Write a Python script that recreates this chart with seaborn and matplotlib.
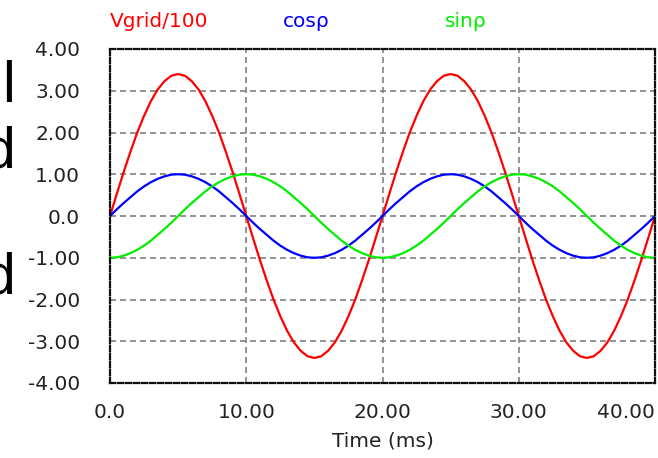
import matplotlib
matplotlib.use("Agg")
import matplotlib.pyplot as plt
import seaborn as sns
import pandas as pd

# ---- data (0.5 ms sampling) ----
time_ms = [0.0, 0.5, 1.0, 1.5, 2.0, 2.5, 3.0, 3.5, 4.0, 4.5,
           5.0, 5.5, 6.0, 6.5, 7.0, 7.5, 8.0, 8.5, 9.0, 9.5,
           10.0, 10.5, 11.0, 11.5, 12.0, 12.5, 13.0, 13.5, 14.0, 14.5,
           15.0, 15.5, 16.0, 16.5, 17.0, 17.5, 18.0, 18.5, 19.0, 19.5,
           20.0, 20.5, 21.0, 21.5, 22.0, 22.5, 23.0, 23.5, 24.0, 24.5,
           25.0, 25.5, 26.0, 26.5, 27.0, 27.5, 28.0, 28.5, 29.0, 29.5,
           30.0, 30.5, 31.0, 31.5, 32.0, 32.5, 33.0, 33.5, 34.0, 34.5,
           35.0, 35.5, 36.0, 36.5, 37.0, 37.5, 38.0, 38.5, 39.0, 39.5,
           40.0]

vgrid_100 = [0.00, 0.53, 1.05, 1.54, 2.00, 2.40, 2.75, 3.03, 3.23, 3.36,
             3.40, 3.36, 3.23, 3.03, 2.75, 2.40, 2.00, 1.54, 1.05, 0.53,
             0.00, -0.53, -1.05, -1.54, -2.00, -2.40, -2.75, -3.03, -3.23, -3.36,
             -3.40, -3.36, -3.23, -3.03, -2.75, -2.40, -2.00, -1.54, -1.05, -0.53,
             0.00, 0.53, 1.05, 1.54, 2.00, 2.40, 2.75, 3.03, 3.23, 3.36,
             3.40, 3.36, 3.23, 3.03, 2.75, 2.40, 2.00, 1.54, 1.05, 0.53,
             0.00, -0.53, -1.05, -1.54, -2.00, -2.40, -2.75, -3.03, -3.23, -3.36,
             -3.40, -3.36, -3.23, -3.03, -2.75, -2.40, -2.00, -1.54, -1.05, -0.53,
             0.00]

cos_rho = [0.00, 0.16, 0.31, 0.45, 0.59, 0.71, 0.81, 0.89, 0.95, 0.99,
           1.00, 0.99, 0.95, 0.89, 0.81, 0.71, 0.59, 0.45, 0.31, 0.16,
           0.00, -0.16, -0.31, -0.45, -0.59, -0.71, -0.81, -0.89, -0.95, -0.99,
           -1.00, -0.99, -0.95, -0.89, -0.81, -0.71, -0.59, -0.45, -0.31, -0.16,
           0.00, 0.16, 0.31, 0.45, 0.59, 0.71, 0.81, 0.89, 0.95, 0.99,
           1.00, 0.99, 0.95, 0.89, 0.81, 0.71, 0.59, 0.45, 0.31, 0.16,
           0.00, -0.16, -0.31, -0.45, -0.59, -0.71, -0.81, -0.89, -0.95, -0.99,
           -1.00, -0.99, -0.95, -0.89, -0.81, -0.71, -0.59, -0.45, -0.31, -0.16,
           0.00]

sin_rho = [-1.00, -0.99, -0.95, -0.89, -0.81, -0.71, -0.59, -0.45, -0.31, -0.16,
           0.00, 0.16, 0.31, 0.45, 0.59, 0.71, 0.81, 0.89, 0.95, 0.99,
           1.00, 0.99, 0.95, 0.89, 0.81, 0.71, 0.59, 0.45, 0.31, 0.16,
           0.00, -0.16, -0.31, -0.45, -0.59, -0.71, -0.81, -0.89, -0.95, -0.99,
           -1.00, -0.99, -0.95, -0.89, -0.81, -0.71, -0.59, -0.45, -0.31, -0.16,
           0.00, 0.16, 0.31, 0.45, 0.59, 0.71, 0.81, 0.89, 0.95, 0.99,
           1.00, 0.99, 0.95, 0.89, 0.81, 0.71, 0.59, 0.45, 0.31, 0.16,
           0.00, -0.16, -0.31, -0.45, -0.59, -0.71, -0.81, -0.89, -0.95, -0.99,
           -1.00]

series_names = ["Vgrid/100", "cosρ", "sinρ"]
series_colors = ["#ff0000", "#0000ff", "#00ee00"]

x_ticks = [0, 10, 20, 30, 40]
x_tick_labels = ["0.0", "10.00", "20.00", "30.00", "40.00"]
y_ticks = [4, 3, 2, 1, 0, -1, -2, -3, -4]
y_tick_labels = ["4.00", "3.00", "2.00", "1.00", "0.0", "-1.00", "-2.00", "-3.00", "-4.00"]

side_letters = ["l", "d", "d"]

# ---- build long table ----
frames = []
for name, vals in zip(series_names, [vgrid_100, cos_rho, sin_rho]):
    frames.append(pd.DataFrame({"t": time_ms, "v": vals, "s": name}))
df = pd.concat(frames, ignore_index=True)

sns.set_style("white")
plt.rcParams["font.family"] = ["DejaVu Sans"]

W, H = 658, 458
fig = plt.figure(figsize=(W / 100, H / 100), dpi=100)
ax = fig.add_axes([110 / W, 1 - 383 / H, (655 - 110) / W, (383 - 49) / H])

sns.lineplot(data=df, x="t", y="v", hue="s", hue_order=series_names,
             palette=series_colors, linewidth=1.6, legend=False, ax=ax,
             estimator=None, sort=False)

ax.set_xlim(0, 40)
ax.set_ylim(-4, 4)

ax.set_xticks(x_ticks)
ax.set_xticklabels(x_tick_labels)
ax.set_yticks(y_ticks)
ax.set_yticklabels(y_tick_labels)
ax.tick_params(axis="both", length=0, labelsize=14.5, colors="#222222")
ax.tick_params(axis="y", pad=21.5)
ax.tick_params(axis="x", pad=14.5)
xl = ax.get_xticklabels()
xl[-1].set_horizontalalignment("right")

ax.grid(True, color="#808080", linewidth=1.2, linestyle=(0, (3.6, 2.4)))
ax.set_axisbelow(True)

for sp in ax.spines.values():
    sp.set_visible(True)
    sp.set_color("#111111")
    sp.set_linewidth(1.6)
    sp.set_linestyle((0, (2.4, 1.2)))

ax.set_xlabel("Time (ms)", fontsize=14.5, color="#222222", labelpad=7)
ax.set_ylabel("")

# series titles at top
title_x = [110, 283, 445]
for name, col, px in zip(series_names, series_colors, title_x):
    fig.text(px / W, 1 - 27 / H, name, color=col, fontsize=14.5,
             ha="left", va="baseline")

# cut-off large letters at the left edge (from surrounding slide)
for letter, base in zip(side_letters, [102, 167, 293]):
    fig.text(15 / W, 1 - base / H, letter, fontsize=41, color="black",
             ha="right", va="baseline", family=["Liberation Sans", "DejaVu Sans"])

fig.savefig("out.png", dpi=100)
